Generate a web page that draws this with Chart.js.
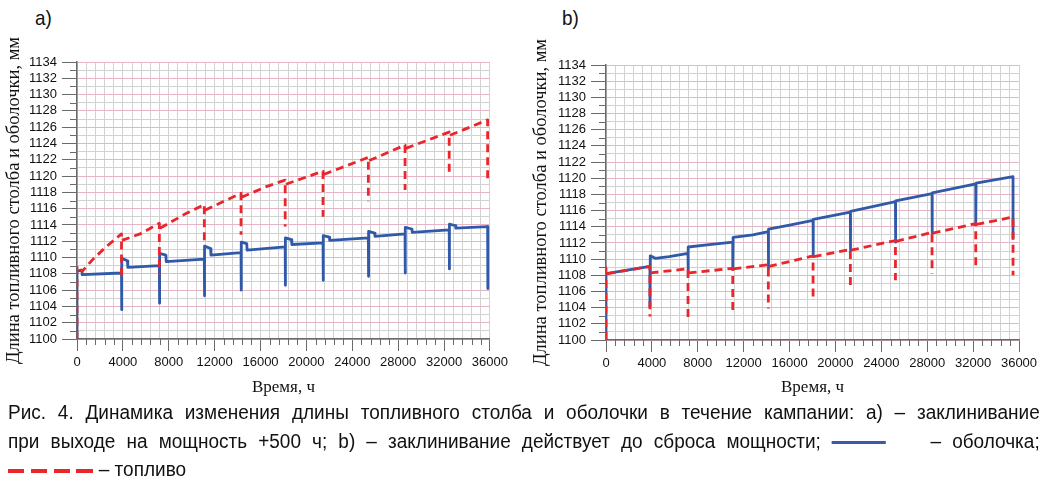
<!DOCTYPE html>
<html>
<head>
<meta charset="utf-8">
<script src="https://cdn.jsdelivr.net/npm/chart.js@4.4.0/dist/chart.umd.min.js"></script>
<style>
  body { margin:0; width:1048px; height:490px; background:#fff; position:relative; overflow:hidden;
         font-family:"Liberation Sans", Arial, sans-serif; color:#111; }
  canvas { position:absolute; top:0; }
  .lbl { position:absolute; top:7px; font-size:21px; line-height:1; transform:scaleX(0.9); transform-origin:0 0; }
  #cap { position:absolute; left:8px; top:398px; width:1086px; transform:scaleX(0.95); transform-origin:0 0;
         font-family:"Liberation Sans Narrow","Arial Narrow","Liberation Sans",sans-serif; font-size:20px; }
  #cap div { height:28.5px; line-height:28.5px; text-align:justify; text-align-last:justify; }
  #cap div.last { text-align:left; text-align-last:left; }
  .solid { display:inline-block; width:57px; height:3px; background:#3a5ba8; vertical-align:middle; }
  .dash { display:inline-block; width:90px; height:4px; vertical-align:middle;
          background:repeating-linear-gradient(90deg,#e8262b 0 17px,transparent 17px 24px); }
</style>
</head>
<body>
<div class="lbl" style="left:35px">a)</div>
<div class="lbl" style="left:562px">b)</div>
<canvas id="chartA" width="512" height="400" style="left:0;width:512px;height:400px"></canvas>
<canvas id="chartB" width="536" height="400" style="left:512px;width:536px;height:400px"></canvas>
<div id="cap">
  <div>Рис. 4. Динамика изменения длины топливного столба и оболочки в течение кампании: а) – заклинивание</div>
  <div>при выходе на мощность +500 ч; b) – заклинивание действует до сброса мощности; <span class="solid"></span>&nbsp;&nbsp;&nbsp; – оболочка;</div>
  <div class="last"><span class="dash"></span> – топливо</div>
</div>
<script>
// оси
const X_MAX = 36000;
const Y_MIN = 1100, Y_MAX = 1134;

// а) оболочка
const timeA_clad = [0, 0, 430, 450, 3880, 3880, 3920, 4400, 4430, 7180, 7180, 7220, 7750, 7780,
  11100, 11100, 11140, 11650, 11680, 14300, 14300, 14340, 14800, 14830, 18150, 18150, 18190, 18700, 18730,
  21450, 21450, 21490, 22000, 22030, 25400, 25400, 25440, 25950, 25980, 28600, 28600, 28640, 29200, 29230,
  32450, 32450, 32490, 33000, 33030, 35800, 35820];
const lenA_clad = [1100, 1108.4, 1108.4, 1107.9, 1108.1, 1103.6, 1109.9, 1109.6, 1108.8, 1109.0, 1104.4, 1110.5, 1110.3, 1109.5,
  1109.8, 1105.3, 1111.4, 1111.1, 1110.3, 1110.6, 1106.0, 1111.9, 1111.7, 1110.9, 1111.3, 1106.6, 1112.4, 1112.2, 1111.6,
  1111.8, 1107.2, 1112.7, 1112.5, 1112.1, 1112.4, 1107.7, 1113.2, 1113.0, 1112.6, 1112.9, 1108.1, 1113.7, 1113.5, 1113.1,
  1113.4, 1108.6, 1114.1, 1113.9, 1113.6, 1113.8, 1106.2];

// а) топливо (null - разрыв линии)
const timeA_fuel = [0, 0, 450, 1400, 2600, 3880, 3880, 3880, 3920, 5500, 7180, 7180, 7180, 7240, 9500,
  11100, 11100, 11100, 11150, 12800, 14300, 14300, 14300, 14350, 16500, 18150, 18150, 18150, 18220,
  21450, 21450, 21450, 21520, 25400, 25400, 25400, 25470, 28600, 28600, 28600, 28670,
  32450, 32450, 32450, 32520, 35800, 35800];
const lenA_fuel = [1100, 1109.0, 1108.3, 1109.8, 1111.4, 1112.9, 1107.5, null, 1112.1, 1112.9, 1114.2, 1107.9, null, 1113.6, 1115.4,
  1116.5, 1111.6, null, 1115.8, 1116.9, 1117.9, 1112.8, null, 1117.4, 1118.7, 1119.5, 1113.8, null, 1119.0,
  1120.6, 1115.0, null, 1120.2, 1122.3, 1116.9, null, 1121.9, 1123.8, 1118.3, null, 1123.4,
  1125.4, 1120.0, null, 1125.0, 1126.9, 1119.7];

// b) оболочка
const timeB_clad = [0, 0, 3830, 3830, 3860, 4300, 5500, 7150, 7150, 7180, 9000, 11050, 11050, 11080, 12800,
  14150, 14150, 14180, 16000, 18050, 18050, 18080, 21300, 21300, 21330, 25230, 25230, 25260,
  28420, 28420, 28450, 32230, 32230, 32260, 35480, 35480];
const lenB_clad = [1100, 1108.2, 1109.1, 1104.1, 1110.4, 1110.1, 1110.3, 1110.7, 1108.6, 1111.5, 1111.8, 1112.1, 1108.8, 1112.7, 1113.0,
  1113.4, 1108.8, 1113.7, 1114.2, 1114.8, 1110.3, 1114.9, 1115.8, 1111.1, 1115.9, 1117.1, 1112.1, 1117.2,
  1118.1, 1113.2, 1118.2, 1119.3, 1114.3, 1119.4, 1120.2, 1112.6];

// b) топливо
const timeB_fuel = [0, 0, 100, 3830, 3830, 3830, 3880, 7150, 7150, 7150, 7200, 11050, 11050, 11050, 11100,
  14150, 14150, 14150, 14200, 18050, 18050, 18050, 18100, 21300, 21300, 21300, 21350, 25230, 25230, 25230, 25280,
  28420, 28420, 28420, 28470, 32230, 32230, 32230, 32280, 35480, 35480];
const lenB_fuel = [1100, 1108.9, 1108.2, 1109.1, 1102.9, null, 1108.3, 1108.8, 1102.8, null, 1108.3, 1108.85, 1103.4, null, 1108.8,
  1109.3, 1103.9, null, 1109.1, 1110.4, 1105.1, null, 1110.3, 1111.2, 1106.2, null, 1111.1, 1112.3, 1107.4, null, 1112.2,
  1113.3, 1108.2, null, 1113.2, 1114.4, 1109.1, null, 1114.3, 1115.2, 1108.0];

const BLUE = '#3059a8', RED = '#e8262b', AXIS = '#6a6a6a';
const PINK = '#e6b6c8', GREY = '#d2d2d2';
const SERIF = '"Liberation Serif", "Times New Roman", serif';

Chart.defaults.font.family = '"Liberation Sans", Arial, sans-serif';
Chart.defaults.color = '#111';

function pts(t, v) { return t.map((x, i) => ({x: x, y: v[i]})); }

// короткие (промежуточные) риски на осях
const minorTicks = {
  id: 'minorTicks',
  afterDraw(chart) {
    const {ctx, scales: {x, y}} = chart;
    ctx.save();
    ctx.strokeStyle = AXIS; ctx.lineWidth = 1;
    ctx.beginPath();
    for (let v = Y_MIN + 1; v < Y_MAX; v += 2) {
      const py = Math.round(y.getPixelForValue(v)) + 0.5;
      ctx.moveTo(y.right - 7, py); ctx.lineTo(y.right, py);
    }
    for (let v = 800; v < X_MAX; v += 800) {
      if (v % 4000 === 0) continue;
      const px = Math.round(x.getPixelForValue(v)) + 0.5;
      ctx.moveTo(px, x.top); ctx.lineTo(px, x.top + 6);
    }
    ctx.stroke();
    ctx.restore();
  }
};

function makeChart(id, clad, fuel, o) {
  return new Chart(document.getElementById(id), {
    type: 'line',
    data: {
      datasets: [
        {data: fuel, borderColor: RED, borderWidth: 2.8, borderDash: [8, 5], pointRadius: 0,
         spanGaps: false, order: 0, borderJoinStyle: 'round'},
        {data: clad, borderColor: BLUE, borderWidth: 2.8, pointRadius: 0, order: 1, borderJoinStyle: 'round'}
      ]
    },
    options: {
      responsive: false, animation: false,
      layout: {padding: {top: o.top, right: o.right, left: 0, bottom: 0}},
      plugins: {legend: {display: false}, tooltip: {enabled: false}},
      scales: {
        x: {
          type: 'linear', min: 0, max: X_MAX,
          afterFit: s => { s.height = o.xh; },
          ticks: {stepSize: 800, autoSkip: false, maxRotation: 0, padding: 4,
                  font: {size: 13}, callback: v => v % 4000 === 0 ? v : ''},
          grid: {color: GREY, tickLength: 12,
                 tickColor: c => c.tick.value % 4000 === 0 ? AXIS : 'transparent'},
          border: {color: AXIS, width: 1.5},
          title: {display: true, text: 'Время, ч', padding: {top: 0, bottom: 2},
                  font: {family: SERIF, size: 17}}
        },
        y: {
          min: Y_MIN, max: Y_MAX,
          afterFit: s => { s.width = o.yw; },
          ticks: {stepSize: 1, autoSkip: false, padding: 5, font: {size: 13},
                  callback: v => v % 2 === 0 ? v : ''},
          grid: {color: c => c.tick.value % 2 === 0 ? PINK : GREY, tickLength: 15,
                 tickColor: c => c.tick.value % 2 === 0 ? AXIS : 'transparent'},
          border: {color: AXIS, width: 1.5},
          title: {display: true, text: 'Длина топливного столба и оболочки, мм', padding: {top: o.tp, bottom: 0},
                  font: {family: SERIF, size: 18.5}}
        }
      }
    },
    plugins: [minorTicks]
  });
}

makeChart('chartA', pts(timeA_clad, lenA_clad), pts(timeA_fuel, lenA_fuel), {top: 62, right: 21, xh: 61, yw: 77, tp: 3});
makeChart('chartB', pts(timeB_clad, lenB_clad), pts(timeB_fuel, lenB_fuel), {top: 65, right: 29, xh: 60, yw: 94, tp: 18});
</script>
</body>
</html>
